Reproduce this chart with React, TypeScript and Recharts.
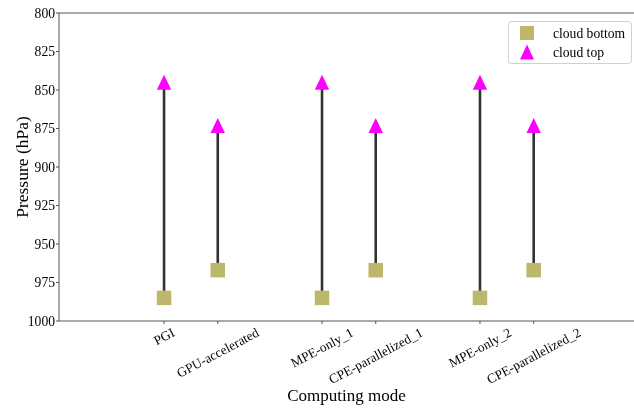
import React from 'react';
import {
  ComposedChart, Scatter, XAxis, YAxis, ReferenceLine,
} from 'recharts';

const categories = ['PGI', 'GPU-accelerated', 'MPE-only_1', 'CPE-parallelized_1', 'MPE-only_2', 'CPE-parallelized_2'];
const positions = [1, 1.34, 2, 2.34, 3, 3.34];
const cloudBottom = [985, 967, 985, 967, 985, 967];
const cloudTop = [845, 873, 845, 873, 845, 873];
const yTicks = [800, 825, 850, 875, 900, 925, 950, 975, 1000];
const seriesNames = ['cloud bottom', 'cloud top'];

const bottomData = positions.map((x, i) => ({ x, y: cloudBottom[i] }));
const topData = positions.map((x, i) => ({ x, y: cloudTop[i] }));

const FONT = '"Liberation Serif", "Times New Roman", serif';
const TICK_SIZE = 13.6;
const XTICK_SIZE = 13.3;
const ROT = 28;
const SPINE = '#555';
const BOTTOM_COLOR = '#BDB76B';
const TOP_COLOR = '#FF00FF';
const LINE_COLOR = '#333';

let ctx: CanvasRenderingContext2D | null = null;
function measure(text: string): number {
  if (!ctx) {
    const c = document.createElement('canvas');
    ctx = c.getContext('2d');
  }
  if (!ctx) return text.length * 6.2;
  ctx.font = `${XTICK_SIZE}px "Liberation Serif"`;
  return ctx.measureText(text).width;
}

const XTick = (props: any) => {
  const { x, y, payload } = props;
  const idx = positions.indexOf(payload.value);
  const label = idx >= 0 ? categories[idx] : '';
  const w = measure(label);
  const h = XTICK_SIZE * 0.85;
  const r = (ROT * Math.PI) / 180;
  const H = w * Math.sin(r) + h * Math.cos(r);
  const cy = y + 0.5 + H / 2;
  return (
    <text
      x={x}
      y={cy}
      textAnchor="middle"
      dominantBaseline="central"
      fontFamily={FONT}
      fontSize={XTICK_SIZE}
      fill="#000"
      transform={`rotate(-${ROT}, ${x}, ${cy})`}
    >
      {label}
    </text>
  );
};

const SquareShape = (props: any) => {
  const { cx, cy } = props;
  const s = 14.5;
  return <rect x={cx - s / 2} y={cy - s / 2} width={s} height={s} fill={BOTTOM_COLOR} />;
};

const TriangleShape = (props: any) => {
  const { cx, cy } = props;
  const hw = 7.2;
  const hh = 7.5;
  return (
    <polygon
      points={`${cx},${cy - hh} ${cx - hw},${cy + hh} ${cx + hw},${cy + hh}`}
      fill={TOP_COLOR}
    />
  );
};

const LegendBox = () => (
  <svg
    width={124}
    height={43}
    style={{ position: 'absolute', left: 508, top: 21, overflow: 'visible' }}
  >
    <rect x={0.5} y={0.5} width={123} height={42} rx={3} ry={3} fill="#fff" stroke="#d0d0d0" strokeWidth={1} />
    <rect x={19 - 7} y={12 - 7} width={14} height={14} fill={BOTTOM_COLOR} />
    <polygon points={`19,${31 - 7.5} ${19 - 7},${31 + 7.5} ${19 + 7},${31 + 7.5}`} fill={TOP_COLOR} />
    <text x={45} y={12} dominantBaseline="central" fontFamily={FONT} fontSize={13.6} fill="#000">{seriesNames[0]}</text>
    <text x={45} y={31} dominantBaseline="central" fontFamily={FONT} fontSize={13.6} fill="#000">{seriesNames[1]}</text>
  </svg>
);

export default function App() {
  return (
    <div style={{ position: 'fixed', left: 0, top: 0, width: 634, height: 409 }}>
      <ComposedChart
        width={634}
        height={409}
        margin={{ top: 13, right: 0, bottom: 0, left: 0 }}
        style={{ fontFamily: FONT }}
      >
        <XAxis
          dataKey="x"
          type="number"
          domain={[0.335, 3.975]}
          ticks={positions}
          allowDataOverflow
          height={88}
          stroke={SPINE}
          tickSize={3}
          tickMargin={2}
          tick={<XTick />}
          interval={0}
          label={{
            content: (p: any) => {
              const vb = p.viewBox;
              return (
                <text x={vb.x + vb.width / 2} y={vb.y + 80} textAnchor="middle" fontFamily={FONT} fontSize={17} fill="#000">
                  Computing mode
                </text>
              );
            },
          }}
        />
        <YAxis
          dataKey="y"
          type="number"
          reversed
          domain={[800, 1000]}
          ticks={yTicks}
          interval={0}
          allowDataOverflow
          width={59}
          stroke={SPINE}
          tickSize={3}
          tickMargin={1}
          tick={{ fontFamily: FONT, fontSize: TICK_SIZE, fill: '#000' }}
          label={{
            content: (p: any) => {
              const vb = p.viewBox;
              const cx = 22;
              const cy = vb.y + vb.height / 2;
              return (
                <text x={cx} y={cy} textAnchor="middle" dominantBaseline="central" fontFamily={FONT} fontSize={17.5} fill="#000" transform={`rotate(-90, ${cx}, ${cy})`}>
                  Pressure (hPa)
                </text>
              );
            },
          }}
        />
        <ReferenceLine y={800} stroke={SPINE} />
        {positions.map((x, i) => (
          <ReferenceLine
            key={categories[i]}
            segment={[{ x, y: cloudBottom[i] }, { x, y: cloudTop[i] }]}
            stroke={LINE_COLOR}
            strokeWidth={2.6}
          />
        ))}
        <Scatter name={seriesNames[0]} data={bottomData} shape={<SquareShape />} isAnimationActive={false} />
        <Scatter name={seriesNames[1]} data={topData} shape={<TriangleShape />} isAnimationActive={false} />
      </ComposedChart>
      <LegendBox />
    </div>
  );
}
